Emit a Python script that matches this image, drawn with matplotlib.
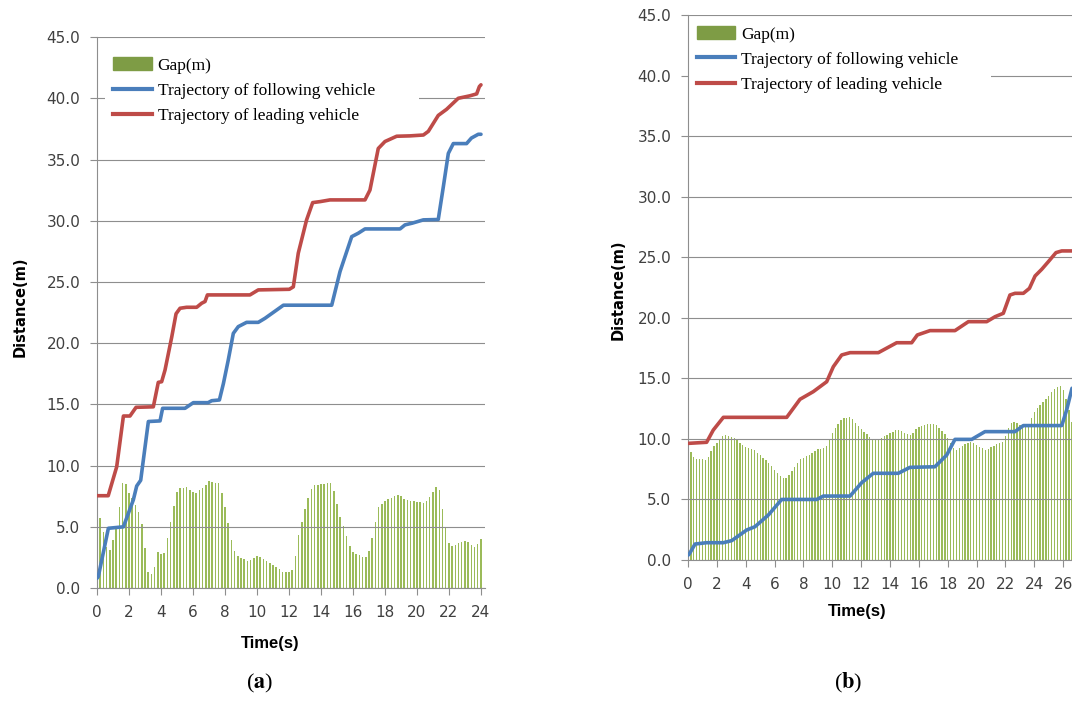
import numpy as np
import matplotlib.pyplot as plt
from matplotlib.patches import Patch
from matplotlib.lines import Line2D

plt.rcParams['mathtext.fontset'] = 'stix'

# ---- (a) ----
lead_t_a = [0, 0.7, 1.23, 1.65, 2.06, 2.44, 3.52, 3.83, 4.04, 4.25, 4.67, 4.94, 5.19, 5.6,
            6.23, 6.54, 6.75, 6.9, 9.56, 10.08, 12.02, 12.27, 12.58, 13.1, 13.48, 13.94,
            14.56, 16.75, 17.06, 17.58, 18.0, 18.73, 19.56, 20.4, 20.71, 21.33, 21.85,
            22.58, 23.3, 23.73, 23.9, 24.0]
lead_a = [7.54, 7.54, 9.9, 14.05, 14.05, 14.76, 14.8, 16.8, 16.85, 17.8, 20.5, 22.4, 22.85,
          22.93, 22.93, 23.26, 23.4, 23.94, 23.94, 24.35, 24.4, 24.6, 27.35, 30.07, 31.48,
          31.56, 31.7, 31.7, 32.5, 35.9, 36.47, 36.9, 36.93, 37.0, 37.3, 38.6, 39.1, 40.0,
          40.2, 40.36, 40.96, 41.1]

follow_t_a = [0, 0.08, 0.71, 1.65, 2.27, 2.48, 2.73, 3.21, 3.94, 4.1, 5.5, 6.02, 6.94, 7.17,
              7.65, 7.9, 8.2, 8.52, 8.83, 9.35, 10.08, 10.5, 11.65, 14.67, 15.19, 15.92,
              16.33, 16.75, 18.94, 19.25, 19.7, 20.4, 21.33, 21.65, 21.96, 22.27, 23.1, 23.4,
              23.83, 24.0]
follow_a = [0.8, 0.93, 4.88, 5.0, 7.2, 8.33, 8.8, 13.6, 13.65, 14.68, 14.68, 15.14, 15.14,
            15.3, 15.36, 16.7, 18.6, 20.8, 21.35, 21.7, 21.7, 22.03, 23.1, 23.1, 25.85, 28.7,
            28.98, 29.33, 29.33, 29.66, 29.8, 30.07, 30.1, 32.8, 35.5, 36.3, 36.3, 36.75,
            37.06, 37.06]

# gap sampled every 0.2 s
gap_a = [6.7, 5.7, 4.6, 3.35, 3.1, 3.96, 4.83, 6.6, 8.56, 8.5,
         7.8, 7.36, 6.78, 6.2, 5.26, 3.27, 1.28, 1.18, 1.7, 2.96,
         2.8, 2.9, 4.08, 5.37, 6.74, 7.83, 8.17, 8.21, 8.25, 7.98,
         7.81, 7.79, 7.97, 8.16, 8.44, 8.76, 8.64, 8.61, 8.59, 7.78,
         6.6, 5.34, 3.96, 3.0, 2.64, 2.48, 2.34, 2.24, 2.27, 2.43,
         2.59, 2.56, 2.41, 2.24, 2.06, 1.87, 1.7, 1.52, 1.34, 1.3,
         1.3, 1.44, 2.65, 4.35, 5.4, 6.45, 7.34, 8.08, 8.4, 8.44,
         8.47, 8.5, 8.56, 8.6, 7.91, 6.85, 5.81, 5.03, 4.25, 3.47,
         2.95, 2.81, 2.66, 2.5, 2.5, 3.02, 4.09, 5.39, 6.6, 6.87,
         7.14, 7.26, 7.38, 7.49, 7.57, 7.52, 7.31, 7.21, 7.13, 7.11,
         7.05, 6.99, 6.93, 7.12, 7.41, 7.82, 8.23, 7.98, 6.48, 4.95,
         3.68, 3.41, 3.48, 3.7, 3.76, 3.82, 3.72, 3.49, 3.35, 3.57,
         4.04]

# ---- (b) ----
lead_t_b = [0, 1.29, 1.75, 2.45, 6.84, 7.76, 8.68, 9.61, 10.07, 10.65, 11.23, 13.19, 14.46,
            15.5, 15.89, 16.77, 18.5, 19.43, 20.7, 21.28, 21.85, 22.31, 22.66, 23.24, 23.66,
            24.05, 24.51, 24.97, 25.5, 25.9, 26.6]
lead_b = [9.63, 9.72, 10.73, 11.78, 11.78, 13.27, 13.9, 14.72, 15.96, 16.93, 17.12, 17.12,
          17.94, 17.94, 18.58, 18.94, 18.94, 19.68, 19.68, 20.09, 20.37, 21.88, 22.02, 22.02,
          22.43, 23.45, 24.0, 24.63, 25.38, 25.52, 25.52]

follow_t_b = [0, 0.09, 0.49, 1.29, 2.45, 3.03, 4.07, 4.64, 5.57, 6.49, 8.92, 9.38, 11.23,
              12.04, 12.84, 14.57, 15.38, 17.11, 17.93, 18.5, 19.66, 20.58, 22.66, 23.24,
              25.9, 26.24, 26.61]
follow_b = [0.4, 0.5, 1.32, 1.43, 1.43, 1.6, 2.48, 2.75, 3.72, 5.0, 5.0, 5.28, 5.28, 6.39,
            7.16, 7.16, 7.65, 7.7, 8.67, 9.96, 9.96, 10.6, 10.6, 11.1, 11.1, 12.39, 14.18]

gap_b = [9.23, 8.91, 8.52, 8.33, 8.32, 8.31, 8.29, 8.53, 8.97, 9.38,
         9.67, 9.97, 10.27, 10.31, 10.25, 10.19, 10.04, 9.87, 9.7, 9.53,
         9.36, 9.24, 9.14, 9.05, 8.86, 8.66, 8.45, 8.24, 8.02, 7.74,
         7.46, 7.18, 6.91, 6.78, 6.78, 7.04, 7.36, 7.69, 8.01, 8.3,
         8.43, 8.57, 8.71, 8.85, 9.01, 9.13, 9.19, 9.26, 9.43, 9.95,
         10.49, 10.9, 11.23, 11.57, 11.7, 11.76, 11.83, 11.61, 11.33, 11.06,
         10.78, 10.58, 10.38, 10.19, 10.0, 9.96, 9.96, 10.1, 10.22, 10.35,
         10.48, 10.61, 10.74, 10.77, 10.64, 10.52, 10.4, 10.29, 10.45, 10.78,
         10.96, 11.05, 11.12, 11.19, 11.26, 11.25, 11.13, 10.9, 10.66, 10.42,
         10.11, 9.66, 9.21, 9.06, 9.22, 9.38, 9.54, 9.7, 9.72, 9.62,
         9.48, 9.34, 9.21, 9.08, 9.15, 9.29, 9.43, 9.55, 9.65, 9.75,
         10.26, 10.92, 11.32, 11.4, 11.3, 11.13, 10.95, 11.08, 11.27, 11.7,
         12.22, 12.53, 12.77, 13.02, 13.3, 13.57, 13.86, 14.14, 14.32, 14.39,
         14.04, 13.28, 12.36, 11.39]

legend_labels = ['Gap(m)', 'Trajectory of following vehicle', 'Trajectory of leading vehicle']

BAR = '#9BBB59'
BLUE = '#4A7EBB'
RED = '#BE4B48'
GRID = '#8E8E8E'
TXT = '#404040'


def draw(ax, gap, lead_t, lead, follow_t, follow, xmax, xtick_max, leg_box):
    t = np.arange(len(gap)) * 0.2
    ax.bar(t, gap, width=0.09, color=BAR, linewidth=0, zorder=1)
    ax.plot(follow_t, follow, color=BLUE, lw=2.6, solid_capstyle='round', zorder=3)
    ax.plot(lead_t, lead, color=RED, lw=2.6, solid_capstyle='round', zorder=3)

    ax.set_xlim(0, xmax)
    ax.set_ylim(0, 45)
    ax.set_yticks(np.arange(0, 46, 5))
    ax.set_yticklabels(['%.1f' % v for v in np.arange(0, 46, 5)])
    ax.set_xticks(np.arange(0, xtick_max + 1, 2))
    ax.yaxis.grid(True, color=GRID, lw=0.8)
    ax.set_axisbelow('line')
    for s in ['top', 'right']:
        ax.spines[s].set_visible(False)
    for s in ['left', 'bottom']:
        ax.spines[s].set_color(GRID)
        ax.spines[s].set_linewidth(0.8)
    ax.tick_params(axis='both', colors=GRID, labelcolor=TXT, labelsize=11,
                   length=5, width=0.8)
    ax.tick_params(axis='y', pad=7)
    ax.tick_params(axis='x', pad=7)

    handles = [Patch(color='#7E9C45'),
               Line2D([], [], color=BLUE, lw=3),
               Line2D([], [], color=RED, lw=3)]
    leg = ax.legend(handles, legend_labels, loc='upper left', bbox_to_anchor=leg_box,
                    mode='expand', borderaxespad=0, frameon=True, fancybox=False,
                    facecolor='white', edgecolor='none', framealpha=1,
                    prop={'family': 'Liberation Serif', 'size': 12.5},
                    handlelength=2.2, handleheight=0.75, handletextpad=0.35,
                    labelspacing=0.5, borderpad=0.5)
    leg.set_zorder(2)


fig = plt.figure(figsize=(10.72, 7.24), dpi=100)

ax_a = fig.add_axes([0.0905, 0.1878, 0.3619, 0.7610])
draw(ax_a, gap_a, lead_t_a, lead_a, follow_t_a, follow_a, 24.25, 24,
     (0.02, 0.5, 0.81, 0.479))
ax_a.set_ylabel('Distance(m)', fontsize=10.5, fontweight='bold', color='black')
ax_a.yaxis.set_label_coords(-0.18, 0.51)
ax_a.set_xlabel('Time(s)', fontsize=12, fontweight='bold', family='Liberation Sans',
                color='black')
ax_a.xaxis.set_label_coords(0.446, -0.087)

# right panel runs past the figure edge
ax_b = fig.add_axes([0.6418, 0.2265, 0.4072, 0.7528])
draw(ax_b, gap_b, lead_t_b, lead_b, follow_t_b, follow_b, 30.25, 30,
     (0.0, 0.5, 0.695, 0.4955))
ax_b.set_ylabel('Distance(m)', fontsize=10.5, fontweight='bold', color='black')
ax_b.yaxis.set_label_coords(-0.144, 0.495)
ax_b.set_xlabel('Time(s)', fontsize=12, fontweight='bold', family='Liberation Sans',
                color='black')
ax_b.xaxis.set_label_coords(0.387, -0.0807)

fig.text(260 / 1072, 1 - 683 / 724, r'($\mathbf{a}$)', ha='center', va='center',
         fontsize=16, family='Liberation Serif')
fig.text(848 / 1072, 1 - 683 / 724, r'($\mathbf{b}$)', ha='center', va='center',
         fontsize=16, family='Liberation Serif')

fig.savefig('out.png', dpi=100, facecolor='white')
